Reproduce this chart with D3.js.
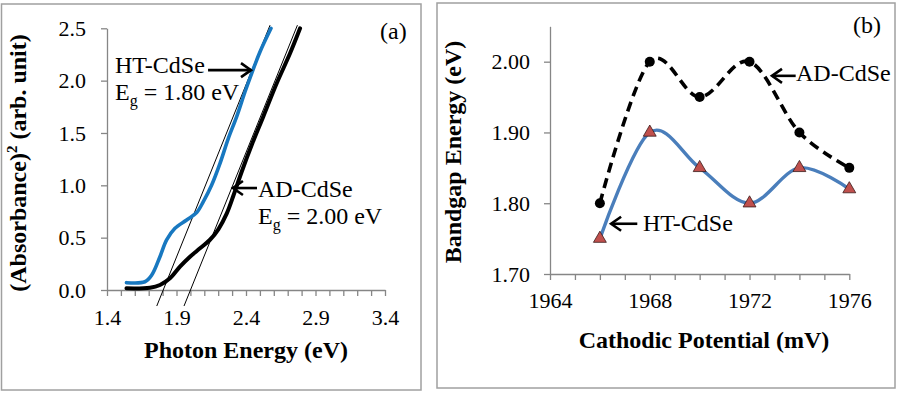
<!DOCTYPE html>
<html><head><meta charset="utf-8">
<script src="https://cdn.jsdelivr.net/npm/d3@7"></script>
<style>
html,body{margin:0;padding:0;background:#fff;}
svg text{font-family:"Liberation Serif","Times New Roman",serif;fill:#000;}
</style></head>
<body><svg id="c" width="901" height="400"></svg>
<script>
// ---------- Panel (a) data ----------
const energyHT = [1.54,1.673,1.722,1.781,1.829,1.889,1.973,2.045,2.093,2.153,2.213,2.273,2.333,2.393,2.441,2.501,2.58];
const absHT    = [0.07,0.079,0.143,0.318,0.478,0.589,0.669,0.74,0.844,1.003,1.21,1.449,1.656,1.894,2.07,2.276,2.5];
const energyAD = [1.54,1.709,1.781,1.853,1.925,1.997,2.069,2.141,2.201,2.261,2.309,2.369,2.441,2.524,2.621,2.717,2.789];
const absAD    = [0.016,0.022,0.048,0.112,0.223,0.318,0.398,0.48,0.58,0.73,0.9,1.13,1.385,1.656,1.975,2.261,2.5];
const fitHTx = [1.758,2.573], fitHTy = [-0.153,2.53];
const fitADx = [1.954,2.77],  fitADy = [-0.153,2.53];
const xTicksA = [1.4,1.9,2.4,2.9,3.4];
const yTicksA = [0,0.5,1.0,1.5,2.0,2.5];

// ---------- Panel (b) data ----------
const potential  = [1966,1968,1970,1972,1974,1976];
const bandgapAD  = [1.80,2.00,1.95,2.00,1.90,1.85];
const bandgapHT  = [1.75,1.90,1.85,1.80,1.85,1.82];
const xTicksB = [1964,1968,1972,1976];
const yTicksB = [1.70,1.80,1.90,2.00];

const svg = d3.select("#c");
const AX = "#868686", FONT = "Liberation Serif, Times New Roman, serif";

// panel borders
svg.append("rect").attr("x",1.5).attr("y",4).attr("width",419.5).attr("height",386)
  .attr("fill","none").attr("stroke","#a0a0a0").attr("stroke-width",1.5);
svg.append("rect").attr("x",437).attr("y",3).attr("width",458).attr("height",385)
  .attr("fill","none").attr("stroke","#a0a0a0").attr("stroke-width",1.5);

function styleAxis(g){
  g.attr("font-family",FONT);
  g.select(".domain").attr("stroke",AX).attr("stroke-width",1.3);
  g.selectAll(".tick line").attr("stroke",AX).attr("stroke-width",1.3);
  g.selectAll(".tick text").attr("font-size",22).attr("font-family",FONT).attr("fill","#000");
}
function arrow(g, x1, y, x2, color){
  const dir = Math.sign(x2 - x1);
  g.append("line").attr("x1",x1).attr("y1",y).attr("x2",x2).attr("y2",y)
    .attr("stroke",color).attr("stroke-width",2.6);
  g.append("path").attr("d",`M${x2-dir*10},${y-7}L${x2},${y}L${x2-dir*10},${y+7}`)
    .attr("fill","none").attr("stroke",color).attr("stroke-width",2.6);
}
function egText(g, x, y, val){
  const t = g.append("text").attr("x",x).attr("y",y).attr("font-size",24);
  t.append("tspan").text("E");
  t.append("tspan").attr("font-size",16).attr("dy",6).text("g");
  t.append("tspan").attr("dy",-6).text(" = " + val + " eV");
}

// ================= Panel (a) =================
const gA = svg.append("g");
const xA = d3.scaleLinear().domain([1.4,3.4]).range([107,385]);
const yA = d3.scaleLinear().domain([0,2.5]).range([290,28.3]);
const minorA = d3.range(14,35).map(d=>d/10);
const isLab = (arr,v)=>arr.some(a=>Math.abs(a-v)<1e-6);

gA.append("g").attr("transform","translate(0,290)")
  .call(d3.axisBottom(xA).tickValues(minorA).tickSizeInner(6).tickSizeOuter(0).tickPadding(13)
    .tickFormat(v=>isLab(xTicksA,v)?d3.format(".1f")(v):""))
  .call(styleAxis);
gA.append("g").attr("transform","translate(107,0)")
  .call(d3.axisLeft(yA).tickValues(yTicksA).tickSizeInner(6).tickSizeOuter(0).tickPadding(15)
    .tickFormat(d3.format(".1f")))
  .call(styleAxis);

// tangent fits
gA.append("line").attr("x1",xA(fitHTx[0])).attr("y1",yA(fitHTy[0])).attr("x2",xA(fitHTx[1])).attr("y2",yA(fitHTy[1]))
  .attr("stroke","#000").attr("stroke-width",1);
gA.append("line").attr("x1",xA(fitADx[0])).attr("y1",yA(fitADy[0])).attr("x2",xA(fitADx[1])).attr("y2",yA(fitADy[1]))
  .attr("stroke","#000").attr("stroke-width",1);

const lineA = d3.line().x(d=>xA(d[0])).y(d=>yA(d[1])).curve(d3.curveCatmullRom.alpha(0.5));
gA.append("path").attr("d",lineA(d3.zip(energyAD,absAD))).attr("fill","none")
  .attr("stroke","#000").attr("stroke-width",4).attr("stroke-linecap","round").attr("stroke-linejoin","round");
gA.append("path").attr("d",lineA(d3.zip(energyHT,absHT))).attr("fill","none")
  .attr("stroke","#1878c0").attr("stroke-width",3.6).attr("stroke-linecap","round").attr("stroke-linejoin","round");

// annotations (a)
gA.append("text").attr("x",380).attr("y",39).attr("font-size",24).text("(a)");
gA.append("text").attr("x",115).attr("y",73).attr("font-size",24).text("HT-CdSe");
egText(gA,115,100,"1.80");
arrow(gA, xA(2.127), yA(2.10), xA(2.436), "#000");
gA.append("text").attr("x",258).attr("y",197).attr("font-size",24).text("AD-CdSe");
egText(gA,258,224,"2.00");
arrow(gA, xA(2.479), yA(0.974), xA(2.306), "#000");

// axis titles (a)
gA.append("text").attr("x",246).attr("y",358).attr("text-anchor","middle")
  .attr("font-size",24).attr("font-weight","bold").text("Photon Energy (eV)");
const ta = gA.append("text").attr("transform","translate(26,163) rotate(-90)").attr("text-anchor","middle")
  .attr("font-size",24).attr("font-weight","bold");
ta.append("tspan").text("(Absorbance)");
ta.append("tspan").attr("font-size",15).attr("dy",-9).text("2");
ta.append("tspan").attr("dy",9).text(" (arb. unit)");

// ================= Panel (b) =================
const gB = svg.append("g");
const xB = d3.scaleLinear().domain([1964,1976]).range([550,849.3]);
const yB = d3.scaleLinear().domain([1.70,2.05]).range([274,26.3]);

gB.append("g").attr("transform","translate(0,274)")
  .call(d3.axisBottom(xB).tickValues(d3.range(1964,1977)).tickSizeInner(6).tickSizeOuter(0).tickPadding(12)
    .tickFormat(v=>xTicksB.includes(v)?String(v):""))
  .call(styleAxis);
gB.append("g").attr("transform","translate(550,0)")
  .call(d3.axisLeft(yB).tickValues(yTicksB).tickSizeInner(6).tickSizeOuter(0).tickPadding(14)
    .tickFormat(d3.format(".2f")))
  .call(styleAxis);

const lineB = d3.line().x(d=>xB(d[0])).y(d=>yB(d[1])).curve(d3.curveCardinal.tension(0));
gB.append("path").attr("d",lineB(d3.zip(potential,bandgapAD))).attr("fill","none")
  .attr("stroke","#000").attr("stroke-width",3.6).attr("stroke-dasharray","10,6");
gB.append("path").attr("d",lineB(d3.zip(potential,bandgapHT))).attr("fill","none")
  .attr("stroke","#4a7ebb").attr("stroke-width",3.4);

gB.selectAll("circle.ad").data(d3.zip(potential,bandgapAD)).join("circle").attr("class","ad")
  .attr("cx",d=>xB(d[0])).attr("cy",d=>yB(d[1])).attr("r",5).attr("fill","#000");
const tri = d3.symbol().type(d3.symbolTriangle).size(72);
gB.selectAll("path.ht").data(d3.zip(potential,bandgapHT)).join("path").attr("class","ht")
  .attr("transform",d=>`translate(${xB(d[0])},${yB(d[1])})`).attr("d",tri)
  .attr("fill","#c0504d").attr("stroke","#3a1a1a").attr("stroke-width",0.8);

// annotations (b)
gB.append("text").attr("x",853).attr("y",33).attr("font-size",24).text("(b)");
gB.append("text").attr("x",796).attr("y",81).attr("font-size",24).text("AD-CdSe");
arrow(gB, xB(1973.85), yB(1.98), xB(1972.9), "#000");
gB.append("text").attr("x",643).attr("y",231).attr("font-size",24).text("HT-CdSe");
arrow(gB, xB(1967.5), yB(1.771), xB(1966.45), "#000");

// axis titles (b)
gB.append("text").attr("x",704).attr("y",348).attr("text-anchor","middle")
  .attr("font-size",24).attr("font-weight","bold").text("Cathodic Potential (mV)");
gB.append("text").attr("transform","translate(461,152) rotate(-90)").attr("text-anchor","middle")
  .attr("font-size",24).attr("font-weight","bold").text("Bandgap Energy (eV)");
</script></body></html>
